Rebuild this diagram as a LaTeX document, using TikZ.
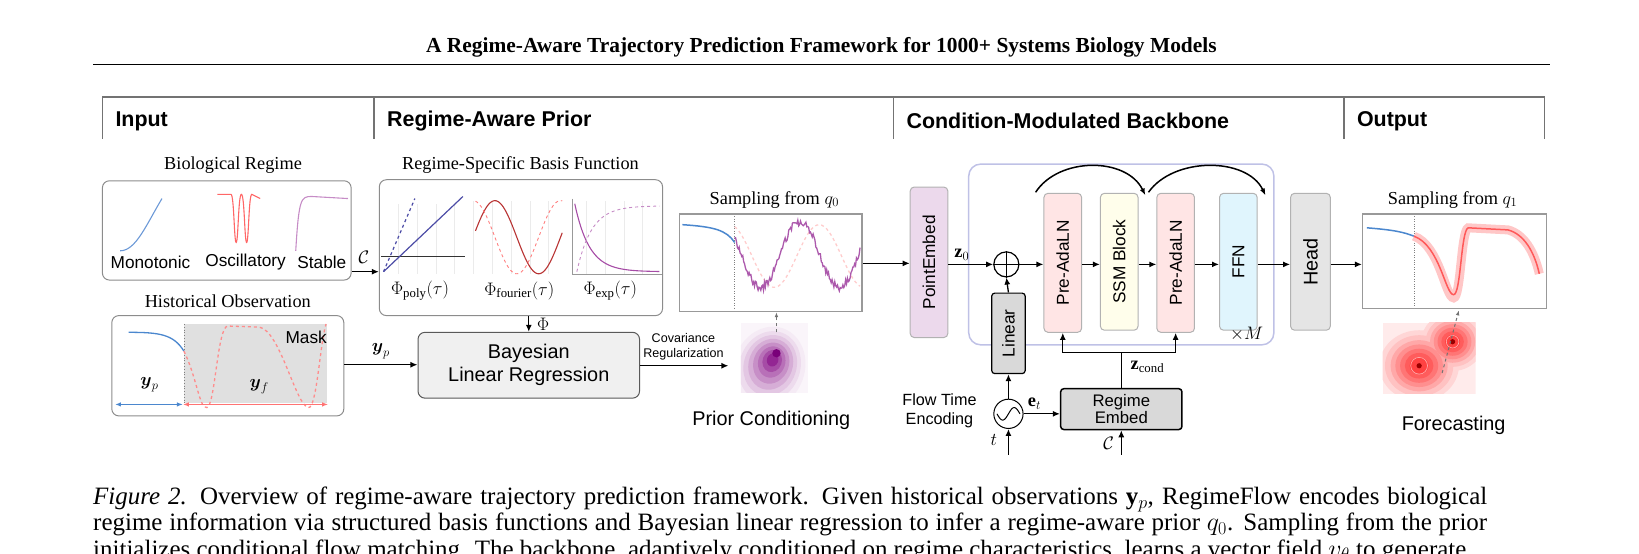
\documentclass[tikz,border=0pt]{standalone}
\usepackage{fontspec}
\setmainfont{Liberation Serif}
\setsansfont{Liberation Sans}
\usepackage{amsmath}
\usetikzlibrary{arrows.meta,calc}
\begin{document}
\begin{tikzpicture}[x=1.045pt,y=-1.045pt,
  every node/.append style={scale=1.045},
  ar/.style={-{Latex[length=7pt,width=6pt]},line width=1.3pt},
  rbox/.style={draw=black!45,line width=1pt,rounded corners=7pt},
  blk/.style={draw=black!30,line width=1pt,rounded corners=4pt,minimum width=36pt,minimum height=133pt,inner sep=0pt},
  sans/.style={font=\sffamily\fontsize{16.5}{18}\selectfont},
  ser/.style={font=\fontsize{17.5}{19}\selectfont},
  hdr/.style={font=\sffamily\bfseries\fontsize{20.5}{22}\selectfont,anchor=west}]
\useasboundingbox (-3,0) rectangle (1565.4,530.1);
% title
\node (title) at (783,45) {\bfseries\fontsize{20.5}{22}\selectfont A Regime-Aware Trajectory Prediction Framework for 1000+ Systems Biology Models};
\draw[line width=1.4pt] (86,62) -- (1480,62);
% headers
\draw[black!55,line width=1.6pt] (95,93) -- (1475,93);
\foreach \x in {95,355,852,1283,1475} \draw[black!55,line width=1.6pt] (\x,93) -- (\x,133);
\node[hdr] (h1) at (104,116) {Input};
\node[hdr] (h2) at (364,116) {Regime-Aware Prior};
\node[hdr] (h3) at (861,116) {Condition-Modulated Backbone};
\node[hdr] (h4) at (1292,116) {Output};
% biological regime
\node[ser] (brl) at (220,158) {Biological Regime};
\node[rbox,minimum width=238pt,minimum height=95pt] (br) at (214,220.5) {};
\draw[cyan!50!blue!60,line width=1.1pt] (112,240) .. controls (127,240) and (137,215) .. (152,190);
\draw[red!60,line width=1.1pt] (205,186) -- (218,186) .. controls (221,186) and (221,232) .. (223,232) .. controls (225,232) and (225,186) .. (228,186) .. controls (231,186) and (231,232) .. (233,232) .. controls (235,232) and (235,186) .. (238,186) -- (246,190);
\draw[violet!45,line width=1.1pt] (280,240) .. controls (283,190) and (285,188) .. (295,188) -- (330,190);
\node[sans] (m1) at (141,251) {Monotonic};
\node[sans] (m2) at (232,251) {Oscillatory};
\node[sans] (m3) at (305,251) {Stable};
% basis
\node[ser] (bfl) at (495,158) {Regime-Specific Basis Function};
\node[rbox,minimum width=271pt,minimum height=130pt] (bf) at (495.5,237) {};
\draw[black!8] (363,195) grid[step=18] (442,262);
\draw[black!8] (450,192) grid[step=18] (535,262);
\draw[black!8] (545,192) grid[step=18] (628,262);
\draw[black!80,line width=1pt] (362,245) -- (442,245);
\draw[blue!50!black!70,line width=1.2pt] (364,260) -- (440,188);
\draw[blue!50!black!70,line width=1.2pt,dashed] (364,260) -- (394,190);
\draw[red!65!black!80,line width=1.1pt] plot[domain=452:535,samples=60,smooth] (\x,{227-35*sin(4.3*(\x-452)+10)});
\draw[red!50,line width=0.9pt,dashed] plot[domain=452:535,samples=60,smooth] (\x,{227-35*cos(4.3*(\x-452)+10)});
\draw[black!40,line width=0.8pt] (545,190) -- (545,263) -- (630,263);
\draw[violet!70,line width=1.1pt] plot[domain=547:628,samples=50,smooth] (\x,{260-65*exp(-(\x-547)/14)});
\draw[violet!45,line width=0.9pt,dashed] plot[domain=549:628,samples=50,smooth] (\x,{197+63*exp(-(\x-549)/14)});
\node[ser] (p1) at (399,278) {$\Phi_{\text{poly}}(\tau)$};
\node[ser] (p2) at (494,278) {$\Phi_{\text{fourier}}(\tau)$};
\node[ser] (p3) at (581,278) {$\Phi_{\exp}(\tau)$};
\draw[ar] (br.east|-0,260) -- node[above,ser,pos=0.45,yshift=4pt] {$\mathcal{C}$} (bf.west|-0,260);
% historical
\node[ser] (hol) at (215,288) {Historical Observation};
\node[rbox,minimum width=222pt,minimum height=96pt] (ho) at (215,350) {};
\fill[black!12] (173,310) rectangle (310,386);
\draw[black!50,dotted,line width=0.8pt] (173,310) -- (173,386);
\draw[cyan!50!blue!75,line width=1.3pt] (120,318) .. controls (150,318) and (163,320) .. (173,336);
\draw[red!45,dashed,line width=1.3pt] (173,336) .. controls (185,360) and (188,392) .. (195,390) .. controls (203,388) and (205,312) .. (215,312) -- (245,313) .. controls (265,316) and (280,388) .. (292,390) .. controls (300,392) and (303,330) .. (309,310);
\node[sans] (mask) at (290,323) {Mask};
\coordinate (ya) at (107,387); \coordinate (yb) at (172,387); \coordinate (yc) at (311,387);
\draw[{Latex[length=6pt]}-{Latex[length=6pt]},cyan!50!blue!75,line width=1.5pt] (ya) -- (yb);
\draw[{Latex[length=6pt]}-{Latex[length=6pt]},red!55,line width=1.5pt] (yb) -- (yc);
\node[ser] (ypl) at (140,368) {$\boldsymbol{y}_p$};
\node[ser] (yfl) at (245,370) {$\boldsymbol{y}_f$};
% BLR
\node[draw=black!65,fill=black!6,line width=1pt,rounded corners=7pt,minimum width=212pt,minimum height=63pt,align=center,font=\sffamily\fontsize{19}{22}\selectfont] (blr) at (503,349.5) {Bayesian\\Linear Regression};
\draw[ar] (ho.east|-0,349) -- node[above,ser,yshift=2pt] {$\boldsymbol{y}_p$} (blr.west|-0,349);
\draw[ar] (bf.south-|blr) -- node[right,ser,xshift=4pt] {$\Phi$} (blr.north);
% prior density
\begin{scope}
\clip (706,309) rectangle (770,376);
\fill[violet!4] (706,309) rectangle (770,376);
\coordinate (pd) at (737,343);
\foreach \s/\c in {1/8,0.86/14,0.74/22,0.62/32,0.5/44,0.38/56,0.27/70,0.16/85}
  \fill[violet!\c] ($(pd)+(-4*\s,9*\s)$) ellipse[x radius={34*\s},y radius={40*\s},rotate=-20];
\fill[violet!95!black] (740,338) circle (4);
\end{scope}
\node[font=\sffamily\fontsize{12}{14}\selectfont,align=center] (cov) at (651,332) {Covariance\\Regularization};
\coordinate (pdw) at (694,350);
\draw[ar] (blr.east|-0,350) -- (pdw);
\node[font=\sffamily\fontsize{19}{21}\selectfont] (pcl) at (735,402) {Prior Conditioning};
% q0 plot
\node[ser] (q0l) at (738,191) {Sampling from $q_0$};
\node[draw=black!40,line width=1.5pt,minimum width=175pt,minimum height=93pt,inner sep=0] (q0) at (734.5,251.5) {};
\draw[cyan!50!blue!75,line width=1.5pt] (650,215) .. controls (680,217) and (692,220) .. (700,232);
\draw[black!50,dotted] (700,207) -- (700,296);
\draw[red!20,dashed,line width=1.3pt] plot[domain=700:820,samples=50,smooth] (\x,{245+30*cos(4.2*(\x-738))});
\pgfmathsetseed{7}
\draw[violet!65,line width=1.3pt] plot[domain=700:820,samples=140] (\x,{max(213,243+32*cos(4.8*(\x-725)))+3.5*rand});
\coordinate (pdt) at (740,318);
\draw[-{Latex[length=5pt]},dashed,black!55,line width=1pt] (pdt) -- (q0.south-|pdt);
% backbone
\node[draw=cyan!25!blue!25,line width=1.5pt,rounded corners=12pt,minimum width=292pt,minimum height=173pt] (bb) at (1070,243.5) {};
\node[blk,fill=violet!15,minimum height=144pt] (pe) at (886,251) {};
\node[sans,rotate=90] at (pe) {PointEmbed};
\draw[ar] (q0.east|-0,252) -- (pe.west|-0,252);
\node[draw,circle,line width=1.2pt,minimum size=24pt,inner sep=0] (plus) at (960,253) {};
\draw[line width=1.2pt] (plus.north) -- (plus.south) (plus.west) -- (plus.east);
\draw[ar] (pe.east|-0,253) -- node[above,ser,pos=0.3] {$\mathbf{z}_0$} (plus.west);
\node[blk,fill=red!10] (a1) at (1014,251.5) {};
\node[sans,rotate=90] at (a1) {Pre-AdaLN};
\node[blk,fill=yellow!8,minimum height=131pt] (ssm) at (1068,250.5) {};
\node[sans,rotate=90] at (ssm) {SSM Block};
\node[blk,fill=red!10] (a2) at (1122,251.5) {};
\node[sans,rotate=90] at (a2) {Pre-AdaLN};
\node[blk,fill=cyan!12,minimum height=131pt] (ffn) at (1182,250.5) {};
\node[sans,rotate=90] at (ffn) {FFN};
\node[blk,fill=black!10,minimum width=38pt,minimum height=131pt] (head) at (1251,250.5) {};
\node[rotate=90,font=\sffamily\fontsize{19}{21}\selectfont] at (head) {Head};
\draw[ar] (plus.east) -- (a1.west|-0,253);
\draw[ar] (a1.east|-0,253) -- (ssm.west|-0,253);
\draw[ar] (ssm.east|-0,253) -- (a2.west|-0,253);
\draw[ar] (a2.east|-0,253) -- (ffn.west|-0,253);
\draw[ar] (ffn.east|-0,253) -- (head.west|-0,253);
\coordinate (s1) at (988,184); \coordinate (e1) at (1093,187);
\coordinate (s2) at (1096,184); \coordinate (e2) at (1208,187);
\draw[-{Latex[length=7pt]},line width=1.5pt] (s1) .. controls (1010,150) and (1075,150) .. (e1);
\draw[-{Latex[length=7pt]},line width=1.5pt] (s2) .. controls (1120,150) and (1190,150) .. (e2);
\node[draw,fill=black!15,line width=1.2pt,rounded corners=3pt,minimum width=32pt,minimum height=77pt] (lin) at (962,319) {};
\node[sans,rotate=90] at (lin) {Linear};
\draw[ar] (lin.north) -- (plus.south);
\node[font=\fontsize{16}{18}\selectfont] (xm) at (1190,320) {$\times M$};
% regime embed
\node[draw,fill=black!15,line width=1.5pt,rounded corners=3pt,minimum width=116pt,minimum height=39pt,align=center,font=\sffamily\fontsize{16}{17}\selectfont] (re) at (1070,391.5) {Regime\\Embed};
\coordinate (zc) at (1070,337);
\draw[line width=1.3pt] (re.north) -- (zc);
\draw[ar] (zc) -| (a1.south);
\draw[ar] (zc) -| (a2.south);
\node[ser] (zcl) at (1095,351) {$\mathbf{z}_{\text{cond}}$};
\node[draw,circle,line width=1pt,minimum size=28pt,inner sep=0] (sin) at (962,396) {};
\draw[line width=1pt] plot[domain=-11:11,samples=30,smooth] ({962+\x},{396-6*sin(16.36*\x)});
\draw[ar] (sin.north) -- (lin.south);
\draw[ar] (sin.east) -- node[above,ser,pos=0.3] {$\mathbf{e}_t$} (re.west|-sin);
\node[align=center,font=\sffamily\fontsize{15.5}{18}\selectfont] (fte) at (896,393) {Flow Time\\Encoding};
\coordinate (tin) at (962,435);
\draw[ar] (tin) -- (sin.south);
\node[ser] (tl) at (948,421) {$t$};
\coordinate (cin) at (1070,435);
\draw[ar] (cin) -- (re.south);
\node[ser] (cl) at (1058,424) {$\mathcal{C}$};
% q1 plot
\node[ser] (q1l) at (1387,191) {Sampling from $q_1$};
\node[draw=black!40,line width=1.5pt,minimum width=176pt,minimum height=90pt,inner sep=0] (q1) at (1389,250) {};
\draw[ar] (head.east|-0,253) -- (q1.west|-0,253);
\draw[cyan!50!blue!75,line width=1.5pt] (1305,218) .. controls (1330,220) and (1340,222) .. (1350,226);
\draw[black!50,dotted] (1350,207) -- (1350,293);
\draw[red!22,line width=9pt] (1350,226) .. controls (1375,235) and (1380,285) .. (1388,285) .. controls (1395,285) and (1395,220) .. (1402,218) -- (1440,220) .. controls (1455,224) and (1465,240) .. (1470,262);
\draw[red!65,line width=1.5pt] (1350,226) .. controls (1375,235) and (1380,282) .. (1388,282) .. controls (1395,282) and (1395,220) .. (1402,218) -- (1440,220) .. controls (1455,224) and (1465,240) .. (1470,262);
% forecast density
\begin{scope}
\clip (1320,309) rectangle (1409,377);
\fill[red!8] (1320,309) rectangle (1409,377);
\foreach \s/\c in {1/16,0.86/24,0.72/34,0.6/44,0.48/54,0.36/64,0.24/74}
  { \fill[red!\c] (1355,350) ellipse[x radius={38*\s},y radius={34*\s}];
    \fill[red!\c] (1387,327) ellipse[x radius={30*\s},y radius={28*\s}]; }
\draw[white!70!red,line width=0.6pt] (1355,350) circle (8) (1387,327) circle (6);
\fill[red!60!black] (1355,350) circle (2.5) (1387,327) circle (2.5);
\end{scope}
\coordinate (fdt) at (1377,357);
\draw[-{Latex[length=5pt]},dashed,black!55,line width=1pt] (fdt) -- (1393,297);
\node[font=\sffamily\fontsize{19}{21}\selectfont] (fcl) at (1388,407) {Forecasting};
% caption
\node[anchor=north west,text width=1334pt,align=justify,font=\fontsize{23.9}{25}\selectfont,inner sep=0] (cap) at (86,466) {\hyphenpenalty=10000 \textit{Figure 2.} Overview of regime-aware trajectory prediction framework. Given historical observations $\mathbf{y}_p$, RegimeFlow encodes biological regime information via structured basis functions and Bayesian linear regression to infer a regime-aware prior $q_0$. Sampling from the prior initializes conditional flow matching. The backbone, adaptively conditioned on regime characteristics, learns a vector field $v_\theta$ to generate};
\end{tikzpicture}
\end{document}
